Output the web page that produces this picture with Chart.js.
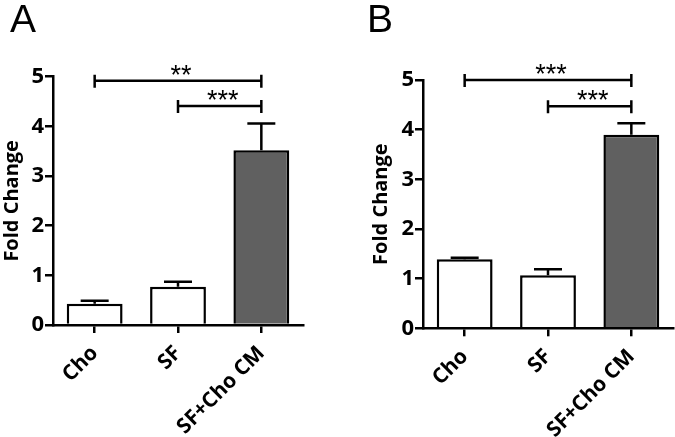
<!DOCTYPE html>
<html>
<head>
<meta charset="utf-8">
<script src="https://cdn.jsdelivr.net/npm/chart.js@4"></script>
<style>
  body { margin: 0; background: #fff; }
  #wrap { position: relative; width: 675px; height: 437px; overflow: hidden; }
  .panel { position: absolute; top: 0; height: 437px; }
  .letter { position: absolute; top: 0; font-family: "Liberation Sans", Arial, sans-serif; font-size: 39px; line-height: 38px; color: #000; }
</style>
</head>
<body>
<div id="wrap">
  <div class="panel" style="left:0;width:337px"><canvas id="chartA"></canvas></div>
  <div class="panel" style="left:337px;width:338px"><canvas id="chartB"></canvas></div>
  <div class="letter" style="left:10px">A</div>
  <div class="letter" style="left:367px">B</div>
</div>
<script>
const categories = ['Cho', 'SF', 'SF+Cho CM'];
const barColors = ['#ffffff', '#ffffff', '#606060'];

const meanA = [0.43, 0.77, 3.52];
const semA = [0.06, 0.10, 0.54];
const meanB = [1.39, 1.07, 3.90];
const semB = [0.03, 0.12, 0.23];

// significance brackets: from / to category index, height, stars
const sigFromA = [0, 1];
const sigToA = [2, 2];
const sigYA = [4.92, 4.41];
const sigTextA = ['**', '***'];
const sigFromB = [0, 1];
const sigToB = [2, 2];
const sigYB = [5.0, 4.47];
const sigTextB = ['***', '***'];

const yTicks = [0, 1, 2, 3, 4, 5];

const labelFont = { family: '"Open Sans", sans-serif', weight: 'bold' };

// one-sided error bars above each bar
const errorBars = {
  id: 'errorBars',
  afterDatasetsDraw(chart, args, opts) {
    const ctx = chart.ctx;
    const y = chart.scales.y;
    const meta = chart.getDatasetMeta(0);
    ctx.save();
    ctx.strokeStyle = '#000';
    ctx.lineWidth = 2.5;
    meta.data.forEach((bar, i) => {
      const top = y.getPixelForValue(opts.mean[i] + opts.sem[i]);
      ctx.beginPath();
      ctx.moveTo(bar.x, bar.y);
      ctx.lineTo(bar.x, top);
      ctx.moveTo(bar.x - 14, top);
      ctx.lineTo(bar.x + 14, top);
      ctx.stroke();
    });
    ctx.restore();
  }
};

const brackets = {
  id: 'brackets',
  afterDraw(chart, args, opts) {
    const ctx = chart.ctx;
    const x = chart.scales.x;
    const y = chart.scales.y;
    ctx.save();
    ctx.strokeStyle = '#000';
    ctx.fillStyle = '#000';
    ctx.lineWidth = 2.5;
    ctx.font = '27px "Liberation Sans", Arial, sans-serif';
    ctx.textAlign = 'center';
    ctx.textBaseline = 'alphabetic';
    opts.from.forEach((f, i) => {
      const x1 = x.getPixelForValue(f);
      const x2 = x.getPixelForValue(opts.to[i]);
      const yy = y.getPixelForValue(opts.y[i]);
      ctx.beginPath();
      ctx.moveTo(x1, yy);
      ctx.lineTo(x2, yy);
      ctx.moveTo(x1, yy - 6);
      ctx.lineTo(x1, yy + 7);
      ctx.moveTo(x2, yy - 6);
      ctx.lineTo(x2, yy + 7);
      ctx.stroke();
      ctx.fillText(opts.text[i], (x1 + x2) / 2 + 3, yy + 3);
    });
    ctx.restore();
  }
};

function makeChart(id, mean, sem, sig, box) {
  return new Chart(document.getElementById(id), {
    type: 'bar',
    data: {
      labels: categories,
      datasets: [{
        data: mean,
        backgroundColor: barColors,
        borderColor: '#000',
        borderWidth: 2.5,
        borderSkipped: 'start',
        categoryPercentage: 1,
        barPercentage: 0.67
      }]
    },
    options: {
      responsive: true,
      maintainAspectRatio: false,
      animation: false,
      layout: { padding: { left: box.padLeft, top: box.top, right: box.padRight, bottom: 0 } },
      plugins: {
        legend: { display: false },
        tooltip: { enabled: false },
        errorBars: { mean: mean, sem: sem },
        brackets: sig
      },
      scales: {
        x: {
          afterFit(s) { s.height = box.xHeight; },
          grid: { offset: false, drawOnChartArea: false, drawTicks: true, tickLength: 8, color: '#000', lineWidth: 2.5 },
          border: { display: true, color: '#000', width: 2.5 },
          ticks: {
            color: '#000',
            font: Object.assign({ size: 21 }, labelFont),
            minRotation: 45,
            maxRotation: 45,
            autoSkip: false,
            padding: 8
          }
        },
        y: {
          min: 0,
          max: 5,
          afterFit(s) { s.width = box.yWidth; },
          afterBuildTicks(s) { s.ticks = yTicks.map(v => ({ value: v })); },
          grid: { drawOnChartArea: false, drawTicks: true, tickLength: 8, color: '#000', lineWidth: 2.5 },
          border: { display: true, color: '#000', width: 2.5 },
          ticks: {
            color: '#000',
            font: Object.assign({ size: 22 }, labelFont),
            padding: 1
          },
          title: {
            display: true,
            text: 'Fold Change',
            color: '#000',
            font: Object.assign({ size: 20 }, labelFont),
            padding: 0
          }
        }
      }
    },
    plugins: [errorBars, brackets]
  });
}

makeChart('chartA', meanA, semA,
  { from: sigFromA, to: sigToA, y: sigYA, text: sigTextA },
  { padLeft: 0, yWidth: 53, top: 76.7, padRight: 34, xHeight: 112 });

makeChart('chartB', meanB, semB,
  { from: sigFromB, to: sigToB, y: sigYB, text: sigTextB },
  { padLeft: 32, yWidth: 54, top: 80, padRight: 2, xHeight: 108.7 });
</script>
</body>
</html>
